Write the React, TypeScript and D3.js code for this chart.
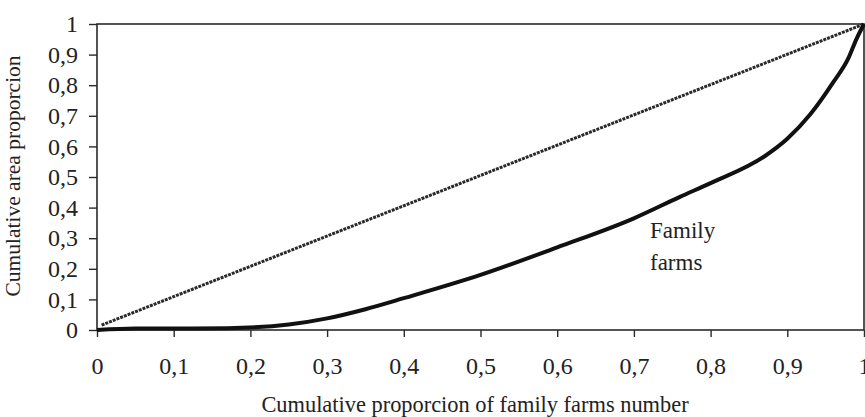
import { useEffect, useRef } from "react";
import * as d3 from "d3";

const WIDTH = 865;
const HEIGHT = 417;

// eixos
const xTicks = [0, 0.1, 0.2, 0.3, 0.4, 0.5, 0.6, 0.7, 0.8, 0.9, 1];
const yTicks = [0, 0.1, 0.2, 0.3, 0.4, 0.5, 0.6, 0.7, 0.8, 0.9, 1];

// linha de igualdade
const equalityX = [0.006, 1];
const equalityY = [0.016, 1];

// curva de Lorenz - family farms
const lorenzX = [0, 0.05, 0.1, 0.17, 0.25, 0.3, 0.35, 0.4, 0.5, 0.6, 0.7, 0.76, 0.8, 0.87, 0.9, 0.93, 0.96, 0.98, 0.99, 1];
const lorenzY = [0, 0.005, 0.005, 0.006, 0.018, 0.038, 0.068, 0.104, 0.18, 0.27, 0.365, 0.435, 0.48, 0.567, 0.625, 0.705, 0.81, 0.89, 0.95, 1];

const FONT = "'Liberation Serif', 'Times New Roman', serif";

const LorenzChart = () => {
  const chartRef = useRef<SVGSVGElement>(null);

  useEffect(() => {
    const svg = d3.select(chartRef.current);
    svg.selectAll("*").remove();

    const xScale = d3.scaleLinear().domain([0, 1]).range([97, 864]);
    const yScale = d3.scaleLinear().domain([0, 1]).range([330, 24]);

    // moldura
    svg
      .append("rect")
      .attr("x", xScale(0))
      .attr("y", yScale(1))
      .attr("width", xScale(1) - xScale(0))
      .attr("height", yScale(0) - yScale(1))
      .attr("fill", "none")
      .attr("stroke", "#2a2a2a")
      .attr("stroke-width", 1.6);

    const fmt = (d: d3.NumberValue) => d3.format("~g")(d as number).replace(".", ",");

    // eixo y
    const yAxis = d3.axisLeft(yScale).tickValues(yTicks).tickSize(8).tickPadding(11).tickFormat(fmt);
    svg
      .append("g")
      .attr("transform", `translate(${xScale(0)},0)`)
      .call(yAxis)
      .call((g) => g.select(".domain").remove())
      .call((g) => g.selectAll(".tick line").attr("stroke", "#2a2a2a").attr("stroke-width", 1.4))
      .call((g) =>
        g.selectAll(".tick text").attr("fill", "#222").attr("font-family", FONT).attr("font-size", 24)
      );

    // eixo x
    const xAxis = d3.axisBottom(xScale).tickValues(xTicks).tickSize(7).tickPadding(20).tickFormat(fmt);
    svg
      .append("g")
      .attr("transform", `translate(0,${yScale(0)})`)
      .call(xAxis)
      .call((g) => g.select(".domain").remove())
      .call((g) => g.selectAll(".tick line").attr("stroke", "#2a2a2a").attr("stroke-width", 1.4))
      .call((g) =>
        g.selectAll(".tick text").attr("fill", "#222").attr("font-family", FONT).attr("font-size", 24)
      );

    // linha de igualdade (pontilhada)
    const eqLine = d3
      .line<[number, number]>()
      .x((d) => xScale(d[0]))
      .y((d) => yScale(d[1]));
    const eqData = equalityX.map((x, i) => [x, equalityY[i]] as [number, number]);
    svg
      .append("path")
      .datum(eqData)
      .attr("fill", "none")
      .attr("stroke", "#2a2a2a")
      .attr("stroke-width", 3)
      .attr("stroke-dasharray", "3,1")
      .attr("d", eqLine);

    // curva de Lorenz
    const lorenzLine = d3
      .line<[number, number]>()
      .x((d) => xScale(d[0]))
      .y((d) => yScale(d[1]))
      .curve(d3.curveMonotoneX);
    const lorenzData = lorenzX.map((x, i) => [x, lorenzY[i]] as [number, number]);
    svg
      .append("path")
      .datum(lorenzData)
      .attr("fill", "none")
      .attr("stroke", "#111")
      .attr("stroke-width", 4)
      .attr("stroke-linejoin", "round")
      .attr("d", lorenzLine);

    // rótulo da curva
    const label = svg
      .append("text")
      .attr("font-family", FONT)
      .attr("font-size", 23)
      .attr("fill", "#222")
      .attr("x", 650)
      .attr("y", 238);
    label.append("tspan").attr("x", 650).text("Family");
    label.append("tspan").attr("x", 650).attr("dy", 32).text("farms");

    // títulos dos eixos
    svg
      .append("text")
      .attr("font-family", FONT)
      .attr("font-size", 22.4)
      .attr("fill", "#222")
      .attr("text-anchor", "middle")
      .attr("x", 475)
      .attr("y", 412)
      .text("Cumulative proporcion of family farms number");

    svg
      .append("text")
      .attr("font-family", FONT)
      .attr("font-size", 21.5)
      .attr("fill", "#222")
      .attr("text-anchor", "middle")
      .attr("transform", `translate(20,176) rotate(-90)`)
      .text("Cumulative area proporcion");
  }, []);

  return (
    <svg
      ref={chartRef}
      width={WIDTH}
      height={HEIGHT}
      style={{ position: "absolute", left: 0, top: 0, background: "#fff" }}
    />
  );
};

export default function App() {
  return <LorenzChart />;
}
